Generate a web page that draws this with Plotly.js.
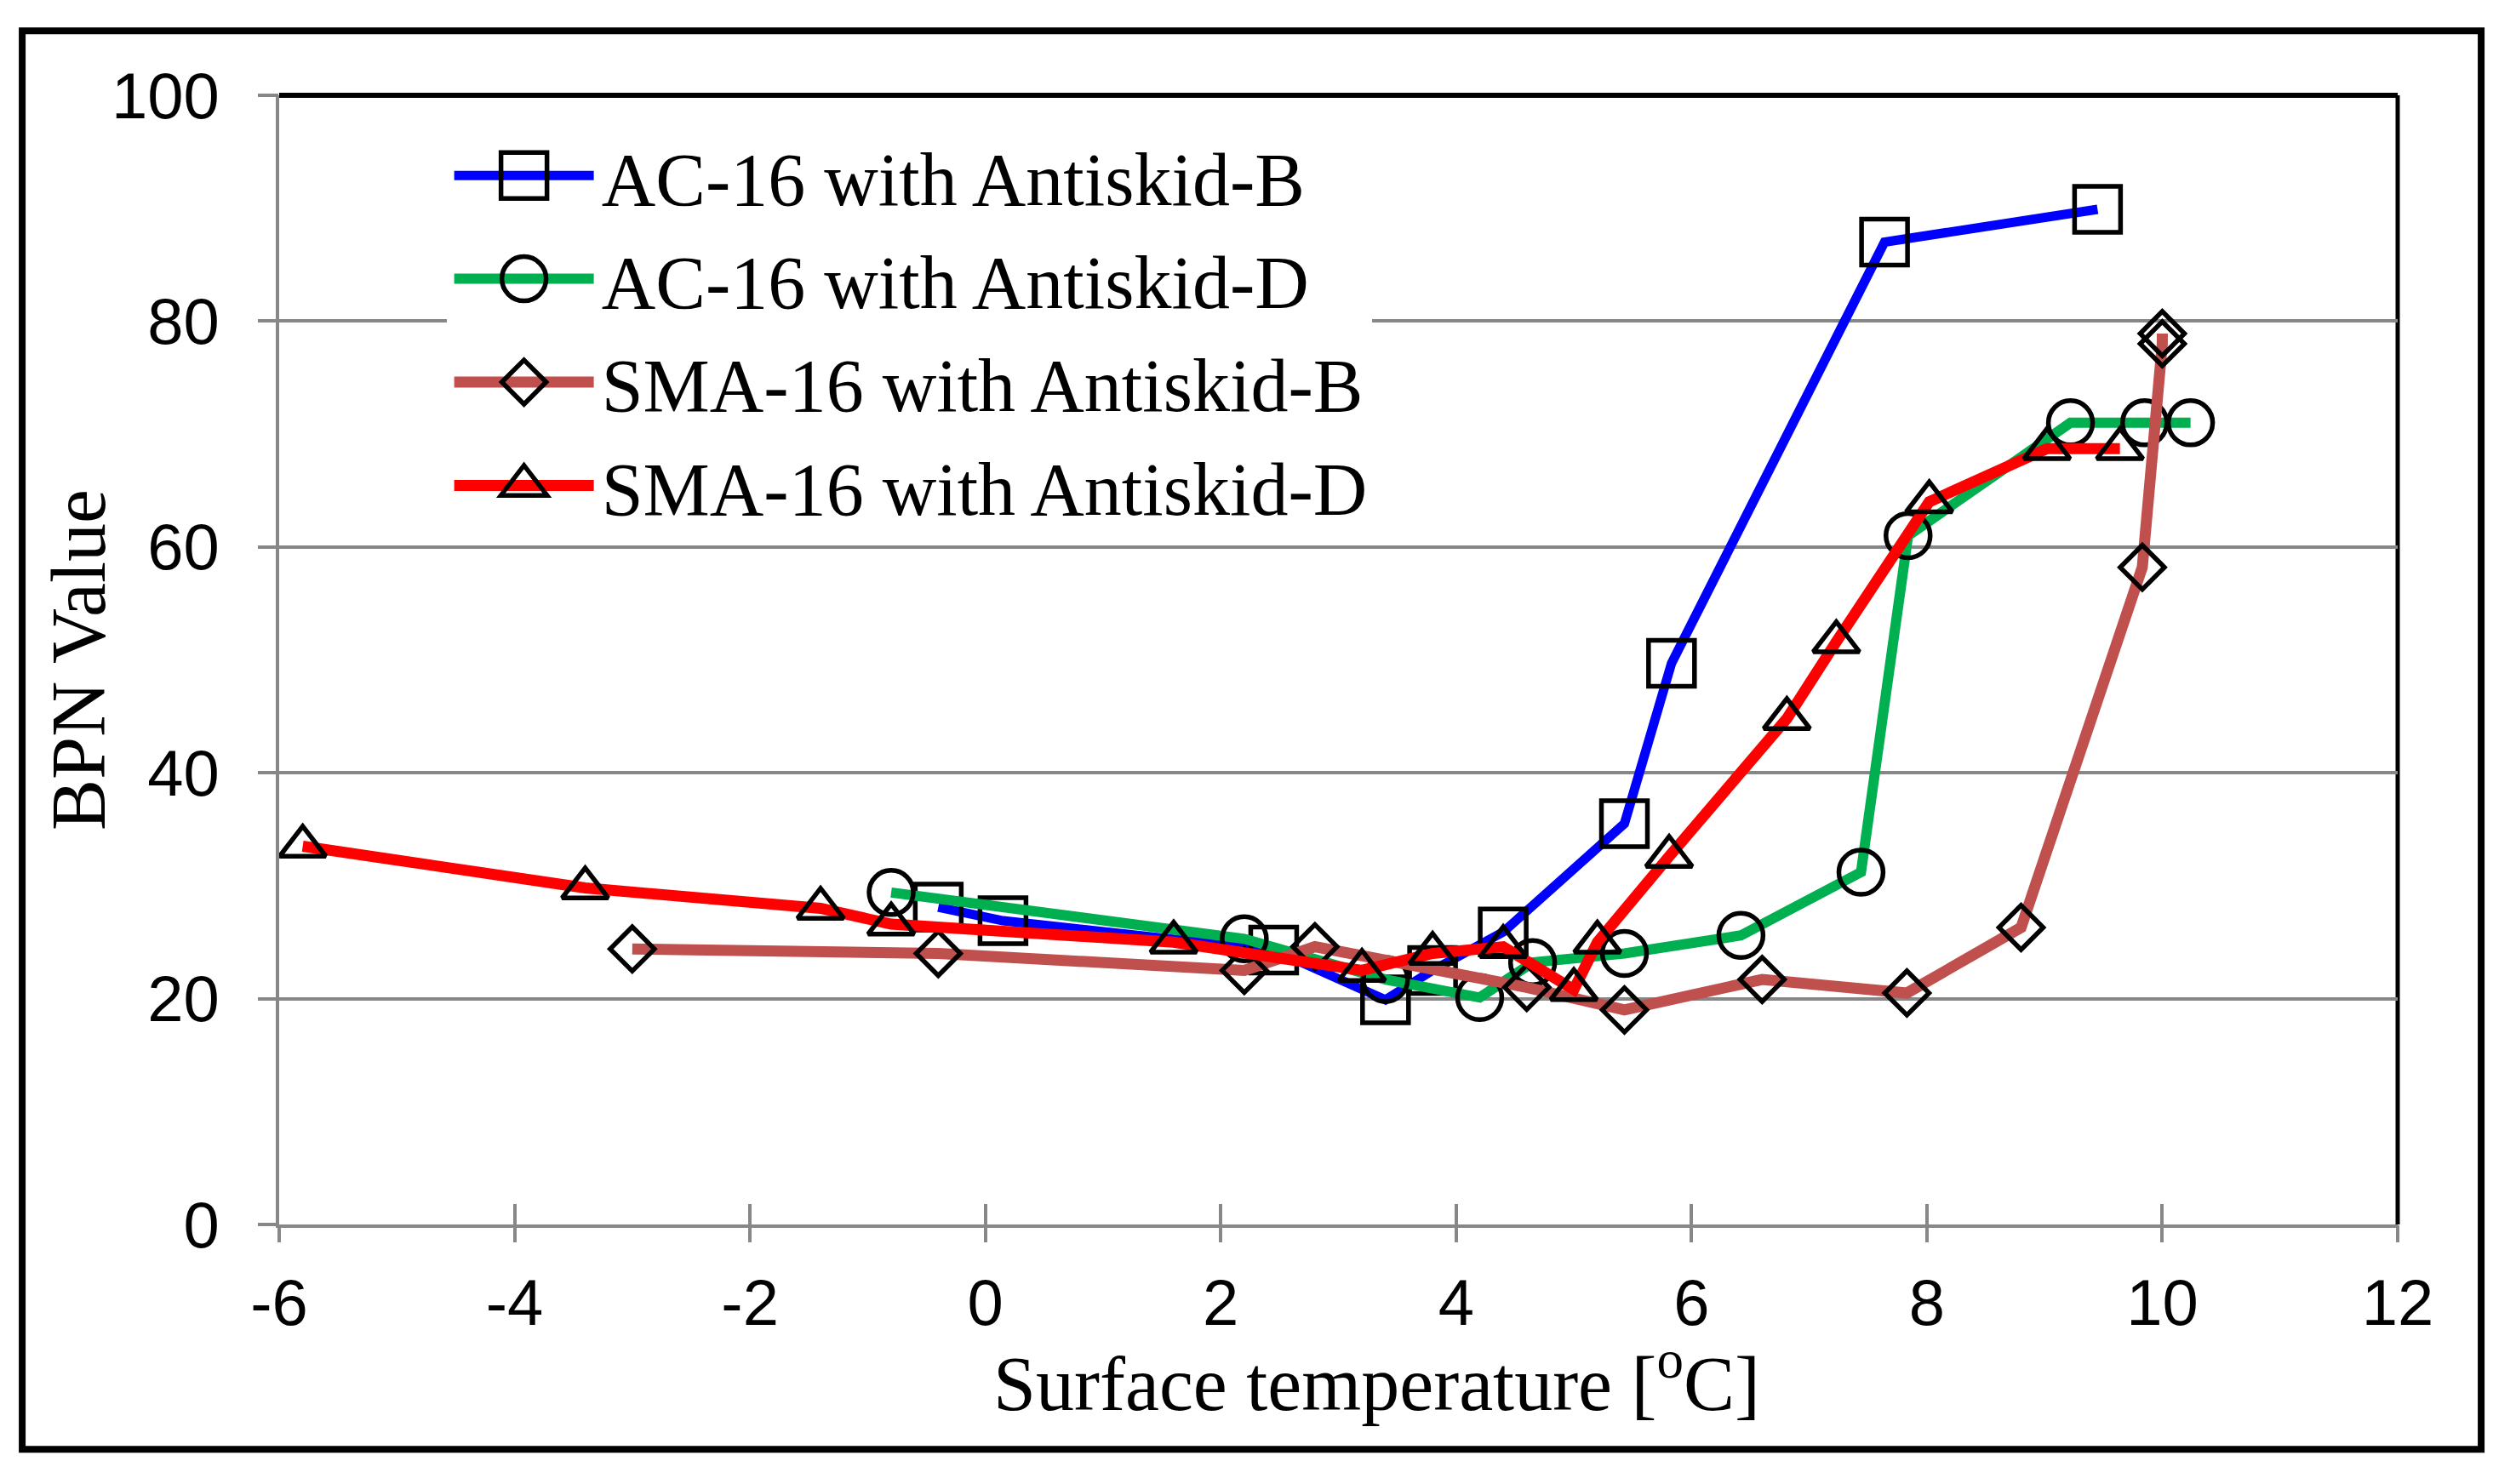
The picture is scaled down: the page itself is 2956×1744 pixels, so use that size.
<!DOCTYPE html>
<html>
<head>
<meta charset="utf-8">
<script src="https://cdn.plot.ly/plotly-3.0.1.min.js"></script>
<style>html,body{margin:0;padding:0;background:#fff;}#chart{width:2956px;height:1744px;}</style>
</head>
<body>
<div id="chart"></div>
<script>
// ---- data ----
const seriesNames = ["AC-16 with Antiskid-B", "AC-16 with Antiskid-D", "SMA-16 with Antiskid-B", "SMA-16 with Antiskid-D"];
const acB_x = [-0.4, 0.15, 2.45, 3.4, 3.8, 4.4, 5.43, 5.83, 7.64, 9.45];
const acB_y = [28.1, 26.9, 24.3, 19.9, 22.5, 25.9, 35.5, 49.7, 87.0, 89.9];
const acD_x = [-0.8, 2.2, 3.4, 4.2, 4.65, 5.43, 6.42, 7.44, 7.84, 9.22, 9.85, 10.24];
const acD_y = [29.4, 25.3, 21.7, 20.1, 23.2, 24.0, 25.6, 31.2, 61.0, 71.0, 71.0, 71.0];
const smaB_x = [-3.0, -0.4, 2.2, 2.8, 4.6, 5.43, 6.6, 7.83, 8.8, 9.83, 10.0, 10.0];
const smaB_y = [24.4, 24.0, 22.5, 24.6, 21.0, 19.0, 21.7, 20.5, 26.3, 58.2, 78.0, 78.9];
const smaD_x = [-5.8, -3.4, -1.4, -0.8, 1.6, 3.2, 3.8, 4.4, 5.0, 5.2, 5.81, 6.81, 7.23, 8.02, 9.02, 9.64];
const smaD_y = [33.5, 29.8, 28.0, 26.6, 25.0, 22.5, 24.0, 24.6, 20.8, 25.0, 32.6, 44.8, 51.6, 64.0, 68.7, 68.7];
const xTicks = [-6, -4, -2, 0, 2, 4, 6, 8, 10, 12];
const yTicks = [0, 20, 40, 60, 80, 100];
const xTitle = "&nbsp;&nbsp;&nbsp;&nbsp;Surface temperature [<sup>o</sup>C]";
const yTitle = "BPN Value";

// ---- styles ----
const colors = ["#0000FF", "#00B050", "#C0504D", "#FF0000"];
const symbols = ["square", "circle", "diamond", "triangle-up"];
const msizes = [54, 52, 40, 47];
const lwidths = [11, 12, 13, 13];
// the last series (drawn on top) lives on the overlay axes that carry the tick labels
const xaxisOf = ["x", "x", "x", "x2"];
const yaxisOf = ["y", "y", "y", "y2"];
const serif = "Liberation Serif, Times New Roman, serif";
const sans = "Liberation Sans, Arial, sans-serif";
const grey = "#878787";

const xs = [acB_x, acD_x, smaB_x, smaD_x];
const ys = [acB_y, acD_y, smaB_y, smaD_y];

const data = seriesNames.map((n, i) => ({
  type: "scatter", mode: "lines+markers", name: n,
  legendgroup: "g" + i,
  x: xs[i], y: ys[i], xaxis: xaxisOf[i], yaxis: yaxisOf[i],
  line: {color: colors[i], width: lwidths[i]},
  marker: {symbol: symbols[i], size: msizes[i], color: "rgba(0,0,0,0)", line: {color: "#000000", width: 5.5}},
  cliponaxis: false
}));

const layout = {
  width: 2956, height: 1744,
  paper_bgcolor: "#ffffff", plot_bgcolor: "#ffffff",
  margin: {l: 328, r: 139, t: 112, b: 305},
  showlegend: true,
  legend: {
    x: 0.079, y: 0.977, xanchor: "left", yanchor: "top",
    bgcolor: "#ffffff", borderwidth: 0,
    font: {family: serif, size: 88, color: "#000"},
    itemwidth: 172, traceorder: "grouped", tracegroupgap: 4, itemsizing: "trace"
  },
  // main x axis: line, inner half of the ticks, and the title
  xaxis: {
    range: [-6, 12], tickvals: xTicks, showticklabels: false,
    showgrid: false, zeroline: false,
    showline: true, linecolor: grey, linewidth: 4,
    ticks: "inside", ticklen: 24, tickwidth: 4, tickcolor: grey,
    title: {text: xTitle, font: {family: serif, size: 90, color: "#000"}, standoff: 153}
  },
  // overlay x axis: outer half of the ticks and the tick labels
  xaxis2: {
    range: [-6, 12], overlaying: "x", anchor: "y2", side: "bottom",
    tickvals: xTicks, ticktext: xTicks.map(String),
    showgrid: false, zeroline: false, showline: false,
    ticks: "outside", ticklen: 20, tickwidth: 4, tickcolor: grey,
    tickfont: {family: sans, size: 76, color: "#000"},
    ticklabelstandoff: 6
  },
  yaxis: {
    range: [0, 100], tickvals: yTicks, showticklabels: false,
    showgrid: true, gridcolor: grey, gridwidth: 4, zeroline: false,
    showline: true, linecolor: grey, linewidth: 4, ticks: "",
    title: {text: yTitle, font: {family: serif, size: 90, color: "#000"}, standoff: 172}
  },
  yaxis2: {
    range: [0, 100], overlaying: "y", anchor: "x2", side: "left",
    tickvals: yTicks, ticktext: yTicks.map(String),
    showgrid: false, zeroline: false, showline: false,
    ticks: "outside", ticklen: 24, tickwidth: 4, tickcolor: grey,
    tickfont: {family: sans, size: 76, color: "#000"},
    ticklabelstandoff: 30
  },
  shapes: [
    {type: "rect", xref: "paper", yref: "paper", x0: -0.1213, x1: 1.0394, y0: -0.1991, y1: 1.0571,
     line: {color: "#000", width: 8}, fillcolor: "rgba(0,0,0,0)", layer: "above"},
    {type: "line", xref: "paper", yref: "paper", x0: 0, x1: 1, y0: 1, y1: 1, line: {color: "#000", width: 6}, layer: "below"},
    {type: "line", xref: "paper", yref: "paper", x0: 1, x1: 1, y0: 0, y1: 1, line: {color: "#000", width: 5}, layer: "below"}
  ]
};

Plotly.newPlot("chart", data, layout, {staticPlot: true}).then(function (gd) {
  // enlarge the legend symbols to match the reference legend
  gd.querySelectorAll(".legend .traces").forEach(function (it, i) {
    const line = it.querySelector(".legendlines path");
    if (line) {
      const bb = line.getBBox();
      const cx = bb.x + bb.width / 2, cy = bb.y + bb.height / 2;
      line.setAttribute("d", "M" + (cx - 82) + "," + cy + "h164");
      line.style.strokeWidth = lwidths[i] + "px";
    }
    const pt = it.querySelector(".legendpoints path");
    if (pt) {
      const t = pt.getAttribute("transform") || "";
      const k = msizes[i] / 16;
      pt.setAttribute("transform", t + " scale(" + k + ")");
      pt.style.strokeWidth = (5.5 / k) + "px";
    }
  });
});
</script>
</body>
</html>
